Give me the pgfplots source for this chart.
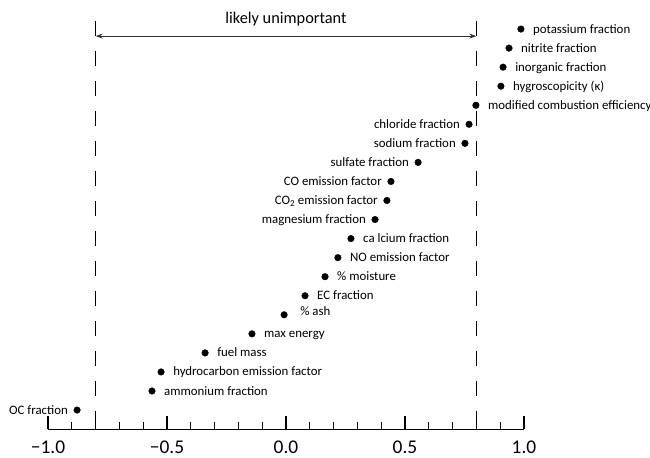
\documentclass[border=0pt]{standalone}
\usepackage{pgfplots}
\pgfplotsset{compat=1.18}
\usepackage{pgfplotstable}
\usepackage{fontspec}
\setmainfont{Carlito}
\usetikzlibrary{arrows.meta}

\pgfplotstableread[col sep=comma]{
x,y,label
0.987,21,potassium fraction
0.937,20,nitrite fraction
0.912,19,inorganic fraction
0.903,18,hygroscopicity (κ)
0.798,17,modified combustion efficiency
0.273,10,ca lcium fraction
0.218,9,NO emission factor
0.164,8,\% moisture
0.080,7,EC fraction
-0.143,5,max energy
-0.340,4,fuel mass
-0.525,3,hydrocarbon emission factor
-0.563,2,ammonium fraction
}\rightdata

\pgfplotstableread[col sep=comma]{
x,y,label
0.769,16,chloride fraction
0.752,15,sodium fraction
0.555,14,sulfate fraction
0.441,13,CO emission factor
0.424,12,CO\textsubscript{2} emission factor
0.374,11,magnesium fraction
-0.878,1,OC fraction
}\leftdata

\pgfplotstableread[col sep=comma]{
x,y,label
-0.008,6,\% ash
}\ashdata

\begin{document}
\begin{tikzpicture}
\begin{axis}[
  scale only axis,
  width=476bp, height=419.1bp,
  xmin=-1, xmax=1, ymin=0, ymax=22,
  clip=false,
  axis x line*=bottom,
  hide y axis,
  axis line style={-, line width=1.2bp, black},
  xtick={-1,-0.5,0,0.5,1},
  xticklabels={−1.0,−0.5,0.0,0.5,1.0},
  minor xtick={-0.9,-0.8,-0.7,-0.6,-0.4,-0.3,-0.2,-0.1,0.1,0.2,0.3,0.4,0.6,0.7,0.8,0.9},
  tick align=inside,
  xtick pos=bottom,
  major tick length=13.5bp,
  minor tick length=7bp,
  every tick/.style={black, line width=1.2bp},
  xticklabel style={font=\fontsize{19.5}{22}\selectfont, anchor=base, yshift=-24.5bp, inner sep=0pt},
  point meta=explicit symbolic,
]
\addplot[black, line width=1.3bp, dash pattern=on 15bp off 15bp, forget plot] coordinates {(-0.8,21.42) (-0.8,0)};
\addplot[black, line width=1.3bp, dash pattern=on 15bp off 15bp, forget plot] coordinates {(0.8,21.42) (0.8,0)};

\addplot[only marks, mark=*, mark size=3.3bp, black,
  nodes near coords,
  every node near coord/.append style={anchor=base west, xshift=12bp, yshift=-4bp, inner sep=0pt, font=\fontsize{12.9}{15}\selectfont, black}]
  table[x=x, y=y, meta=label] {\rightdata};
\addplot[only marks, mark=*, mark size=3.3bp, black,
  nodes near coords,
  every node near coord/.append style={anchor=base east, xshift=-9bp, yshift=-4bp, inner sep=0pt, font=\fontsize{12.9}{15}\selectfont, black}]
  table[x=x, y=y, meta=label] {\leftdata};
\addplot[only marks, mark=*, mark size=3.3bp, black,
  nodes near coords,
  every node near coord/.append style={anchor=base west, xshift=16bp, yshift=-1bp, inner sep=0pt, font=\fontsize{12.9}{15}\selectfont, black}]
  table[x=x, y=y, meta=label] {\ashdata};

\draw[black!80, line width=1.1bp, {Stealth[length=7bp,width=5bp]}-{Stealth[length=7bp,width=5bp]}] (axis cs:-0.8,20.63) -- (axis cs:0.8,20.63);
\node[anchor=base, inner sep=0pt, font=\fontsize{16.4}{19}\selectfont] at (axis cs:0,21.29) {likely unimportant};
\end{axis}
\pgfresetboundingbox
\path[use as bounding box] ([xshift=-48bp,yshift=-28bp]current axis.south west) rectangle ([xshift=126bp,yshift=10bp]current axis.north east);
\end{tikzpicture}
\end{document}
